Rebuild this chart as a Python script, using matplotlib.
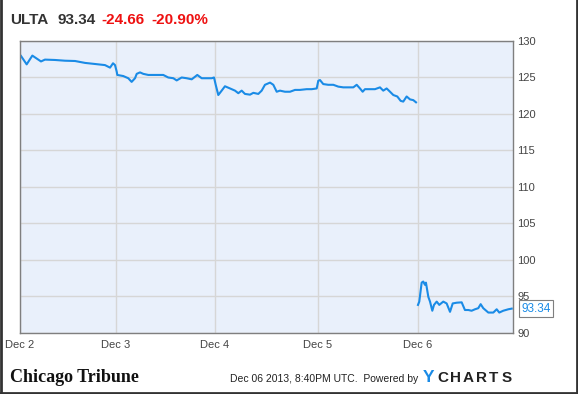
import matplotlib
import matplotlib.pyplot as plt
import numpy as np

matplotlib.use('Agg')
plt.rcParams['font.family'] = ['Liberation Sans', 'DejaVu Sans']

# x positions in trading-day units (Dec 2 open = 0)
day_x = [0.01, 0.067, 0.124, 0.211, 0.251, 0.352, 0.452, 0.553, 0.653, 0.754, 0.854, 0.905, 0.935, 0.955,
         0.972, 0.978, 1.038, 1.088, 1.122, 1.156, 1.173, 1.206, 1.239, 1.289, 1.340, 1.390, 1.440, 1.490,
         1.541, 1.575, 1.625, 1.675, 1.726, 1.782, 1.826, 1.876, 1.927, 1.950,
         1.967, 1.993, 2.027, 2.060, 2.111, 2.161, 2.194, 2.228, 2.261, 2.312, 2.345, 2.395, 2.429, 2.462,
         2.513, 2.546, 2.580, 2.613, 2.663, 2.714, 2.764, 2.814, 2.881, 2.932, 2.982,
         2.998, 3.015, 3.048, 3.098, 3.149, 3.199, 3.249, 3.300, 3.350, 3.384, 3.417, 3.444, 3.467, 3.518,
         3.568, 3.618, 3.651, 3.685, 3.719, 3.752, 3.792, 3.826, 3.852, 3.886, 3.920, 3.953, 3.980,
         4.000, 4.013, 4.037, 4.053, 4.070, 4.080, 4.104, 4.121, 4.144, 4.161, 4.188, 4.214, 4.254, 4.288,
         4.322, 4.349, 4.389, 4.439, 4.472, 4.506, 4.539, 4.573, 4.606, 4.630, 4.656, 4.707, 4.757, 4.791,
         4.817, 4.857, 4.908, 4.942]
price = [127.95, 126.8, 128.0, 127.2, 127.45, 127.4, 127.3, 127.26, 127.0, 126.85, 126.7, 126.35, 126.95, 126.7,
         125.8, 125.35, 125.2, 124.9, 124.4, 124.9, 125.5, 125.7, 125.5, 125.35, 125.35, 125.35, 125.35, 125.0,
         124.9, 124.6, 125.0, 124.9, 124.75, 125.35, 124.9, 124.9, 124.9, 125.0,
         124.0, 122.6, 123.2, 123.8, 123.5, 123.2, 122.85, 123.2, 122.75, 122.65, 122.9, 122.75, 123.2, 124.0,
         124.3, 124.0, 123.05, 123.2, 123.05, 123.05, 123.3, 123.3, 123.4, 123.4, 123.5,
         124.55, 124.65, 124.1, 124.0, 124.0, 123.75, 123.65, 123.65, 123.65, 124.0, 123.5, 123.05, 123.4, 123.4,
         123.4, 123.65, 123.2, 123.5, 123.05, 122.6, 122.4, 121.8, 121.7, 122.4, 122.0, 121.9, 121.6,
         93.85, 94.3, 96.9, 97.05, 96.6, 96.9, 94.95, 94.3, 93.05, 93.85, 94.3, 93.85, 94.3, 94.05,
         92.9, 94.05, 94.15, 94.2, 93.15, 93.15, 93.05, 93.25, 93.4, 93.95, 93.4, 92.8, 92.8, 93.25,
         92.8, 93.05, 93.25, 93.34]

tick_pos = [0, 0.965, 1.96, 2.995, 4.0]
tick_labels = ["Dec 2", "Dec 3", "Dec 4", "Dec 5", "Dec 6"]
y_ticks = [90, 95, 100, 105, 110, 115, 120, 125, 130]

ticker = "ULTA"
last = 93.34
change = "-24.66"
pct = "-20.90%"

line_color = '#1a8be6'
W, H = 578, 394

fig = plt.figure(figsize=(W / 100, H / 100), dpi=100)
ax = fig.add_axes([20 / W, 1 - 333 / H, 493 / W, 292 / H])
ax.set_facecolor('#e9f0fb')

# the chart leaves the overnight gap before Dec 6 undrawn
xs = np.array(day_x)
ys = np.array(price)
cut = np.searchsorted(xs, tick_pos[-1])
ax.plot(xs[:cut], ys[:cut], color=line_color, linewidth=1.5, solid_joinstyle='round')
ax.plot(xs[cut:], ys[cut:], color=line_color, linewidth=1.5, solid_joinstyle='round')

ax.set_xlim(0, 4.955)
ax.set_ylim(90, 130)
ax.set_xticks(tick_pos)
ax.set_xticklabels(tick_labels)
ax.set_yticks(y_ticks)
ax.yaxis.tick_right()
ax.tick_params(axis='both', length=0, labelsize=8, colors='#444444')
ax.tick_params(axis='x', pad=5)
ax.tick_params(axis='y', pad=3)
ax.grid(color='#d6d6d6', linewidth=1)
for s in ax.spines.values():
    s.set_color('#7f7f7f')
    s.set_linewidth(1)

# last value tag
ax.annotate("{:.2f}".format(last), xy=(4.955, last), xytext=(6, 0), textcoords='offset points',
            va='center', ha='left', fontsize=8.5, color=line_color,
            bbox=dict(boxstyle='square,pad=0.2', fc='white', ec='#7f7f7f', lw=0.8),
            annotation_clip=False)

# header
hy = 1 - 20 / H
fig.text(10 / W, hy, ticker, fontsize=11, fontweight='bold', color='#333333', va='center')
fig.text(57 / W, hy, "{:.2f}".format(last), fontsize=11, fontweight='bold', color='#333333', va='center')
fig.text(101 / W, hy, change, fontsize=11, fontweight='bold', color='#ee1111', va='center')
fig.text(151 / W, hy, pct, fontsize=11, fontweight='bold', color='#ee1111', va='center')

# footer
fy = 1 - 378 / H
fig.text(10 / W, fy, "Chicago Tribune", fontsize=13, fontweight='bold',
         family='Liberation Serif', color='#111111', va='center')
fig.text(418 / W, 1 - 379 / H, "Dec 06 2013, 8:40PM UTC.  Powered by", fontsize=7.5,
         color='#222222', va='center', ha='right')
fig.text(423 / W, fy, "Y", fontsize=12.5, fontweight='bold', color=line_color, va='center')
for i, ch in enumerate("CHARTS"):
    fig.text((437 + i * 13) / W, fy, ch, fontsize=11, fontweight='bold', color='#222222', va='center')

# outer frame
fig.add_artist(plt.Line2D([0.5 / W, 0.5 / W], [0, 1], color='#333333', lw=2, transform=fig.transFigure))
fig.add_artist(plt.Line2D([576.5 / W, 576.5 / W], [0, 1], color='#333333', lw=2, transform=fig.transFigure))
fig.add_artist(plt.Line2D([0, 1], [1 - 392.5 / H, 1 - 392.5 / H], color='#333333', lw=2, transform=fig.transFigure))

fig.savefig("out.png", dpi=100)
